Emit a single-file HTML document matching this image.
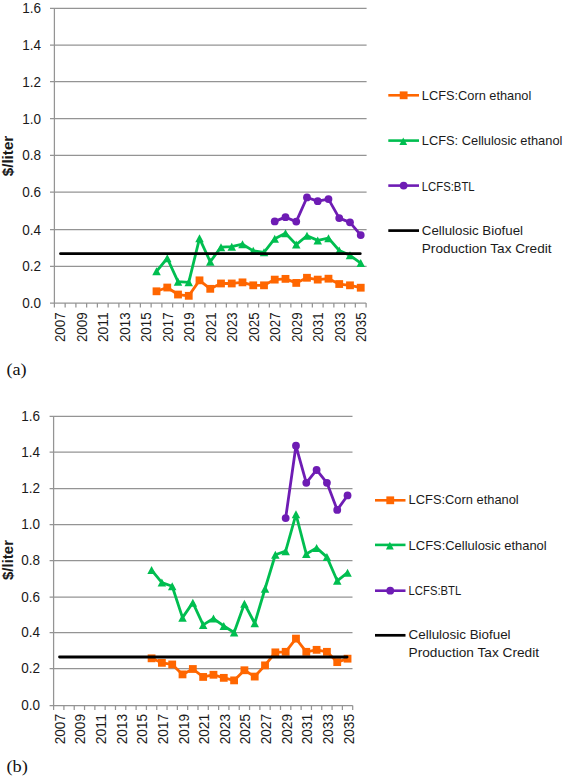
<!DOCTYPE html>
<html><head><meta charset="utf-8"><style>
html,body{margin:0;padding:0;background:#fff;width:564px;height:777px;overflow:hidden;}
svg{display:block;}
</style></head><body>
<svg width="564" height="777" viewBox="0 0 564 777" font-family='"Liberation Sans", sans-serif'>
<rect width="564" height="777" fill="#fff"/>
<line x1="50.00" y1="266.40" x2="366.60" y2="266.40" stroke="#949494" stroke-width="1.25"/>
<line x1="50.00" y1="229.60" x2="366.60" y2="229.60" stroke="#949494" stroke-width="1.25"/>
<line x1="50.00" y1="192.00" x2="366.60" y2="192.00" stroke="#949494" stroke-width="1.25"/>
<line x1="50.00" y1="155.40" x2="366.60" y2="155.40" stroke="#949494" stroke-width="1.25"/>
<line x1="50.00" y1="118.50" x2="366.60" y2="118.50" stroke="#949494" stroke-width="1.25"/>
<line x1="50.00" y1="81.60" x2="366.60" y2="81.60" stroke="#949494" stroke-width="1.25"/>
<line x1="50.00" y1="45.20" x2="366.60" y2="45.20" stroke="#949494" stroke-width="1.25"/>
<line x1="50.00" y1="8.30" x2="366.60" y2="8.30" stroke="#949494" stroke-width="1.25"/>
<line x1="50.00" y1="303.00" x2="366.10" y2="303.00" stroke="#949494" stroke-width="1.25"/>
<line x1="54.40" y1="8.30" x2="54.40" y2="303.50" stroke="#949494" stroke-width="1.25"/>
<line x1="54.40" y1="303.00" x2="54.40" y2="307.50" stroke="#949494" stroke-width="1.25"/>
<line x1="65.15" y1="303.00" x2="65.15" y2="307.50" stroke="#949494" stroke-width="1.25"/>
<line x1="75.90" y1="303.00" x2="75.90" y2="307.50" stroke="#949494" stroke-width="1.25"/>
<line x1="86.64" y1="303.00" x2="86.64" y2="307.50" stroke="#949494" stroke-width="1.25"/>
<line x1="97.39" y1="303.00" x2="97.39" y2="307.50" stroke="#949494" stroke-width="1.25"/>
<line x1="108.14" y1="303.00" x2="108.14" y2="307.50" stroke="#949494" stroke-width="1.25"/>
<line x1="118.89" y1="303.00" x2="118.89" y2="307.50" stroke="#949494" stroke-width="1.25"/>
<line x1="129.64" y1="303.00" x2="129.64" y2="307.50" stroke="#949494" stroke-width="1.25"/>
<line x1="140.39" y1="303.00" x2="140.39" y2="307.50" stroke="#949494" stroke-width="1.25"/>
<line x1="151.13" y1="303.00" x2="151.13" y2="307.50" stroke="#949494" stroke-width="1.25"/>
<line x1="161.88" y1="303.00" x2="161.88" y2="307.50" stroke="#949494" stroke-width="1.25"/>
<line x1="172.63" y1="303.00" x2="172.63" y2="307.50" stroke="#949494" stroke-width="1.25"/>
<line x1="183.38" y1="303.00" x2="183.38" y2="307.50" stroke="#949494" stroke-width="1.25"/>
<line x1="194.13" y1="303.00" x2="194.13" y2="307.50" stroke="#949494" stroke-width="1.25"/>
<line x1="204.88" y1="303.00" x2="204.88" y2="307.50" stroke="#949494" stroke-width="1.25"/>
<line x1="215.62" y1="303.00" x2="215.62" y2="307.50" stroke="#949494" stroke-width="1.25"/>
<line x1="226.37" y1="303.00" x2="226.37" y2="307.50" stroke="#949494" stroke-width="1.25"/>
<line x1="237.12" y1="303.00" x2="237.12" y2="307.50" stroke="#949494" stroke-width="1.25"/>
<line x1="247.87" y1="303.00" x2="247.87" y2="307.50" stroke="#949494" stroke-width="1.25"/>
<line x1="258.62" y1="303.00" x2="258.62" y2="307.50" stroke="#949494" stroke-width="1.25"/>
<line x1="269.37" y1="303.00" x2="269.37" y2="307.50" stroke="#949494" stroke-width="1.25"/>
<line x1="280.11" y1="303.00" x2="280.11" y2="307.50" stroke="#949494" stroke-width="1.25"/>
<line x1="290.86" y1="303.00" x2="290.86" y2="307.50" stroke="#949494" stroke-width="1.25"/>
<line x1="301.61" y1="303.00" x2="301.61" y2="307.50" stroke="#949494" stroke-width="1.25"/>
<line x1="312.36" y1="303.00" x2="312.36" y2="307.50" stroke="#949494" stroke-width="1.25"/>
<line x1="323.11" y1="303.00" x2="323.11" y2="307.50" stroke="#949494" stroke-width="1.25"/>
<line x1="333.86" y1="303.00" x2="333.86" y2="307.50" stroke="#949494" stroke-width="1.25"/>
<line x1="344.60" y1="303.00" x2="344.60" y2="307.50" stroke="#949494" stroke-width="1.25"/>
<line x1="355.35" y1="303.00" x2="355.35" y2="307.50" stroke="#949494" stroke-width="1.25"/>
<line x1="366.10" y1="303.00" x2="366.10" y2="307.50" stroke="#949494" stroke-width="1.25"/>
<text x="41.00" y="308.00" text-anchor="end" font-size="14" textLength="18.8" lengthAdjust="spacingAndGlyphs" fill="#1a1a1a">0.0</text>
<text x="41.00" y="271.40" text-anchor="end" font-size="14" textLength="18.8" lengthAdjust="spacingAndGlyphs" fill="#1a1a1a">0.2</text>
<text x="41.00" y="234.60" text-anchor="end" font-size="14" textLength="18.8" lengthAdjust="spacingAndGlyphs" fill="#1a1a1a">0.4</text>
<text x="41.00" y="197.00" text-anchor="end" font-size="14" textLength="18.8" lengthAdjust="spacingAndGlyphs" fill="#1a1a1a">0.6</text>
<text x="41.00" y="160.40" text-anchor="end" font-size="14" textLength="18.8" lengthAdjust="spacingAndGlyphs" fill="#1a1a1a">0.8</text>
<text x="41.00" y="123.50" text-anchor="end" font-size="14" textLength="18.8" lengthAdjust="spacingAndGlyphs" fill="#1a1a1a">1.0</text>
<text x="41.00" y="86.60" text-anchor="end" font-size="14" textLength="18.8" lengthAdjust="spacingAndGlyphs" fill="#1a1a1a">1.2</text>
<text x="41.00" y="50.20" text-anchor="end" font-size="14" textLength="18.8" lengthAdjust="spacingAndGlyphs" fill="#1a1a1a">1.4</text>
<text x="41.00" y="13.30" text-anchor="end" font-size="14" textLength="18.8" lengthAdjust="spacingAndGlyphs" fill="#1a1a1a">1.6</text>
<text transform="translate(65.37,312.40) rotate(-90)" x="0" y="0" text-anchor="end" font-size="14" textLength="29.7" lengthAdjust="spacingAndGlyphs" fill="#1a1a1a">2007</text>
<text transform="translate(86.87,312.40) rotate(-90)" x="0" y="0" text-anchor="end" font-size="14" textLength="29.7" lengthAdjust="spacingAndGlyphs" fill="#1a1a1a">2009</text>
<text transform="translate(108.37,312.40) rotate(-90)" x="0" y="0" text-anchor="end" font-size="14" textLength="29.7" lengthAdjust="spacingAndGlyphs" fill="#1a1a1a">2011</text>
<text transform="translate(129.86,312.40) rotate(-90)" x="0" y="0" text-anchor="end" font-size="14" textLength="29.7" lengthAdjust="spacingAndGlyphs" fill="#1a1a1a">2013</text>
<text transform="translate(151.36,312.40) rotate(-90)" x="0" y="0" text-anchor="end" font-size="14" textLength="29.7" lengthAdjust="spacingAndGlyphs" fill="#1a1a1a">2015</text>
<text transform="translate(172.86,312.40) rotate(-90)" x="0" y="0" text-anchor="end" font-size="14" textLength="29.7" lengthAdjust="spacingAndGlyphs" fill="#1a1a1a">2017</text>
<text transform="translate(194.35,312.40) rotate(-90)" x="0" y="0" text-anchor="end" font-size="14" textLength="29.7" lengthAdjust="spacingAndGlyphs" fill="#1a1a1a">2019</text>
<text transform="translate(215.85,312.40) rotate(-90)" x="0" y="0" text-anchor="end" font-size="14" textLength="29.7" lengthAdjust="spacingAndGlyphs" fill="#1a1a1a">2021</text>
<text transform="translate(237.35,312.40) rotate(-90)" x="0" y="0" text-anchor="end" font-size="14" textLength="29.7" lengthAdjust="spacingAndGlyphs" fill="#1a1a1a">2023</text>
<text transform="translate(258.84,312.40) rotate(-90)" x="0" y="0" text-anchor="end" font-size="14" textLength="29.7" lengthAdjust="spacingAndGlyphs" fill="#1a1a1a">2025</text>
<text transform="translate(280.34,312.40) rotate(-90)" x="0" y="0" text-anchor="end" font-size="14" textLength="29.7" lengthAdjust="spacingAndGlyphs" fill="#1a1a1a">2027</text>
<text transform="translate(301.84,312.40) rotate(-90)" x="0" y="0" text-anchor="end" font-size="14" textLength="29.7" lengthAdjust="spacingAndGlyphs" fill="#1a1a1a">2029</text>
<text transform="translate(323.33,312.40) rotate(-90)" x="0" y="0" text-anchor="end" font-size="14" textLength="29.7" lengthAdjust="spacingAndGlyphs" fill="#1a1a1a">2031</text>
<text transform="translate(344.83,312.40) rotate(-90)" x="0" y="0" text-anchor="end" font-size="14" textLength="29.7" lengthAdjust="spacingAndGlyphs" fill="#1a1a1a">2033</text>
<text transform="translate(366.33,312.40) rotate(-90)" x="0" y="0" text-anchor="end" font-size="14" textLength="29.7" lengthAdjust="spacingAndGlyphs" fill="#1a1a1a">2035</text>
<text transform="translate(13.30,156.00) rotate(-90)" x="0" y="0" text-anchor="middle" font-size="15" font-weight="bold" textLength="40.5" lengthAdjust="spacingAndGlyphs" fill="#1a1a1a">$/liter</text>
<polyline points="156.51,291.30 167.26,287.53 178.01,294.53 188.75,295.82 199.50,280.34 210.25,288.82 221.00,283.48 231.75,283.48 242.49,282.37 253.24,285.32 263.99,285.32 274.74,279.61 285.49,278.87 296.24,282.92 306.98,277.77 317.73,279.61 328.48,278.69 339.23,284.03 349.98,285.32 360.73,287.71" fill="none" stroke="#FF6600" stroke-width="2.8" stroke-linejoin="round"/>
<rect x="152.61" y="287.40" width="7.8" height="7.8" fill="#FF6600"/>
<rect x="163.36" y="283.63" width="7.8" height="7.8" fill="#FF6600"/>
<rect x="174.11" y="290.63" width="7.8" height="7.8" fill="#FF6600"/>
<rect x="184.85" y="291.92" width="7.8" height="7.8" fill="#FF6600"/>
<rect x="195.60" y="276.44" width="7.8" height="7.8" fill="#FF6600"/>
<rect x="206.35" y="284.92" width="7.8" height="7.8" fill="#FF6600"/>
<rect x="217.10" y="279.58" width="7.8" height="7.8" fill="#FF6600"/>
<rect x="227.85" y="279.58" width="7.8" height="7.8" fill="#FF6600"/>
<rect x="238.59" y="278.47" width="7.8" height="7.8" fill="#FF6600"/>
<rect x="249.34" y="281.42" width="7.8" height="7.8" fill="#FF6600"/>
<rect x="260.09" y="281.42" width="7.8" height="7.8" fill="#FF6600"/>
<rect x="270.84" y="275.71" width="7.8" height="7.8" fill="#FF6600"/>
<rect x="281.59" y="274.97" width="7.8" height="7.8" fill="#FF6600"/>
<rect x="292.34" y="279.02" width="7.8" height="7.8" fill="#FF6600"/>
<rect x="303.08" y="273.87" width="7.8" height="7.8" fill="#FF6600"/>
<rect x="313.83" y="275.71" width="7.8" height="7.8" fill="#FF6600"/>
<rect x="324.58" y="274.79" width="7.8" height="7.8" fill="#FF6600"/>
<rect x="335.33" y="280.13" width="7.8" height="7.8" fill="#FF6600"/>
<rect x="346.08" y="281.42" width="7.8" height="7.8" fill="#FF6600"/>
<rect x="356.83" y="283.81" width="7.8" height="7.8" fill="#FF6600"/>
<polyline points="156.51,271.32 167.26,258.24 178.01,281.63 188.75,282.37 199.50,238.35 210.25,261.74 221.00,247.19 231.75,246.64 242.49,244.24 253.24,250.87 263.99,252.35 274.74,238.72 285.49,233.19 296.24,244.61 306.98,235.77 317.73,240.38 328.48,238.17 339.23,250.51 349.98,255.30 360.73,263.03" fill="none" stroke="#00BE50" stroke-width="2.8" stroke-linejoin="round"/>
<polygon points="156.51,267.32 160.76,275.32 152.26,275.32" fill="#00BE50"/>
<polygon points="167.26,254.24 171.51,262.24 163.01,262.24" fill="#00BE50"/>
<polygon points="178.01,277.63 182.26,285.63 173.76,285.63" fill="#00BE50"/>
<polygon points="188.75,278.37 193.00,286.37 184.50,286.37" fill="#00BE50"/>
<polygon points="199.50,234.35 203.75,242.35 195.25,242.35" fill="#00BE50"/>
<polygon points="210.25,257.74 214.50,265.74 206.00,265.74" fill="#00BE50"/>
<polygon points="221.00,243.19 225.25,251.19 216.75,251.19" fill="#00BE50"/>
<polygon points="231.75,242.64 236.00,250.64 227.50,250.64" fill="#00BE50"/>
<polygon points="242.49,240.24 246.74,248.24 238.24,248.24" fill="#00BE50"/>
<polygon points="253.24,246.87 257.49,254.87 248.99,254.87" fill="#00BE50"/>
<polygon points="263.99,248.35 268.24,256.35 259.74,256.35" fill="#00BE50"/>
<polygon points="274.74,234.72 278.99,242.72 270.49,242.72" fill="#00BE50"/>
<polygon points="285.49,229.19 289.74,237.19 281.24,237.19" fill="#00BE50"/>
<polygon points="296.24,240.61 300.49,248.61 291.99,248.61" fill="#00BE50"/>
<polygon points="306.98,231.77 311.23,239.77 302.73,239.77" fill="#00BE50"/>
<polygon points="317.73,236.38 321.98,244.38 313.48,244.38" fill="#00BE50"/>
<polygon points="328.48,234.17 332.73,242.17 324.23,242.17" fill="#00BE50"/>
<polygon points="339.23,246.51 343.48,254.51 334.98,254.51" fill="#00BE50"/>
<polygon points="349.98,251.30 354.23,259.30 345.73,259.30" fill="#00BE50"/>
<polygon points="360.73,259.03 364.98,267.03 356.48,267.03" fill="#00BE50"/>
<polyline points="274.74,221.40 285.49,217.17 296.24,221.59 306.98,197.46 317.73,201.14 328.48,199.12 339.23,218.09 349.98,222.33 360.73,235.03" fill="none" stroke="#6E1CB4" stroke-width="2.8" stroke-linejoin="round"/>
<circle cx="274.74" cy="221.40" r="3.9" fill="#6E1CB4"/>
<circle cx="285.49" cy="217.17" r="3.9" fill="#6E1CB4"/>
<circle cx="296.24" cy="221.59" r="3.9" fill="#6E1CB4"/>
<circle cx="306.98" cy="197.46" r="3.9" fill="#6E1CB4"/>
<circle cx="317.73" cy="201.14" r="3.9" fill="#6E1CB4"/>
<circle cx="328.48" cy="199.12" r="3.9" fill="#6E1CB4"/>
<circle cx="339.23" cy="218.09" r="3.9" fill="#6E1CB4"/>
<circle cx="349.98" cy="222.33" r="3.9" fill="#6E1CB4"/>
<circle cx="360.73" cy="235.03" r="3.9" fill="#6E1CB4"/>
<line x1="60.57" y1="253.64" x2="360.23" y2="253.64" stroke="#000" stroke-width="2.9" stroke-linecap="round"/>
<line x1="388.3" y1="95.3" x2="419.0" y2="95.3" stroke="#FF6600" stroke-width="2.6"/>
<rect x="399.75" y="91.40" width="7.8" height="7.8" fill="#FF6600"/>
<line x1="388.3" y1="140.6" x2="419.0" y2="140.6" stroke="#00BE50" stroke-width="2.6"/>
<polygon points="403.25,137.50 407.15,145.10 399.35,145.10" fill="#00BE50"/>
<line x1="388.3" y1="185.6" x2="419.0" y2="185.6" stroke="#6E1CB4" stroke-width="2.6"/>
<circle cx="403.65" cy="185.6" r="3.9" fill="#6E1CB4"/>
<line x1="388.3" y1="230.6" x2="419.0" y2="230.6" stroke="#000" stroke-width="2.7"/>
<text x="421.8" y="99.9" font-size="13.5" textLength="109.5" lengthAdjust="spacingAndGlyphs" fill="#1a1a1a">LCFS:Corn ethanol</text>
<text x="421.8" y="145.0" font-size="13.5" textLength="140.6" lengthAdjust="spacingAndGlyphs" fill="#1a1a1a">LCFS: Cellulosic ethanol</text>
<text x="421.8" y="190.7" font-size="13.5" textLength="52.8" lengthAdjust="spacingAndGlyphs" fill="#1a1a1a">LCFS:BTL</text>
<text x="421.8" y="234.9" font-size="13.5" textLength="101.2" lengthAdjust="spacingAndGlyphs" fill="#1a1a1a">Cellulosic Biofuel</text>
<text x="421.8" y="253.1" font-size="13.5" textLength="129.7" lengthAdjust="spacingAndGlyphs" fill="#1a1a1a">Production Tax Credit</text>
<line x1="49.60" y1="668.50" x2="352.50" y2="668.50" stroke="#949494" stroke-width="1.25"/>
<line x1="49.60" y1="632.60" x2="352.50" y2="632.60" stroke="#949494" stroke-width="1.25"/>
<line x1="49.60" y1="597.20" x2="352.50" y2="597.20" stroke="#949494" stroke-width="1.25"/>
<line x1="49.60" y1="560.50" x2="352.50" y2="560.50" stroke="#949494" stroke-width="1.25"/>
<line x1="49.60" y1="524.60" x2="352.50" y2="524.60" stroke="#949494" stroke-width="1.25"/>
<line x1="49.60" y1="488.50" x2="352.50" y2="488.50" stroke="#949494" stroke-width="1.25"/>
<line x1="49.60" y1="452.10" x2="352.50" y2="452.10" stroke="#949494" stroke-width="1.25"/>
<line x1="49.60" y1="416.30" x2="352.50" y2="416.30" stroke="#949494" stroke-width="1.25"/>
<line x1="49.60" y1="705.50" x2="352.70" y2="705.50" stroke="#949494" stroke-width="1.25"/>
<line x1="53.60" y1="416.30" x2="53.60" y2="706.00" stroke="#949494" stroke-width="1.25"/>
<line x1="53.60" y1="705.50" x2="53.60" y2="710.00" stroke="#949494" stroke-width="1.25"/>
<line x1="63.91" y1="705.50" x2="63.91" y2="710.00" stroke="#949494" stroke-width="1.25"/>
<line x1="74.23" y1="705.50" x2="74.23" y2="710.00" stroke="#949494" stroke-width="1.25"/>
<line x1="84.54" y1="705.50" x2="84.54" y2="710.00" stroke="#949494" stroke-width="1.25"/>
<line x1="94.86" y1="705.50" x2="94.86" y2="710.00" stroke="#949494" stroke-width="1.25"/>
<line x1="105.17" y1="705.50" x2="105.17" y2="710.00" stroke="#949494" stroke-width="1.25"/>
<line x1="115.48" y1="705.50" x2="115.48" y2="710.00" stroke="#949494" stroke-width="1.25"/>
<line x1="125.80" y1="705.50" x2="125.80" y2="710.00" stroke="#949494" stroke-width="1.25"/>
<line x1="136.11" y1="705.50" x2="136.11" y2="710.00" stroke="#949494" stroke-width="1.25"/>
<line x1="146.42" y1="705.50" x2="146.42" y2="710.00" stroke="#949494" stroke-width="1.25"/>
<line x1="156.74" y1="705.50" x2="156.74" y2="710.00" stroke="#949494" stroke-width="1.25"/>
<line x1="167.05" y1="705.50" x2="167.05" y2="710.00" stroke="#949494" stroke-width="1.25"/>
<line x1="177.37" y1="705.50" x2="177.37" y2="710.00" stroke="#949494" stroke-width="1.25"/>
<line x1="187.68" y1="705.50" x2="187.68" y2="710.00" stroke="#949494" stroke-width="1.25"/>
<line x1="197.99" y1="705.50" x2="197.99" y2="710.00" stroke="#949494" stroke-width="1.25"/>
<line x1="208.31" y1="705.50" x2="208.31" y2="710.00" stroke="#949494" stroke-width="1.25"/>
<line x1="218.62" y1="705.50" x2="218.62" y2="710.00" stroke="#949494" stroke-width="1.25"/>
<line x1="228.93" y1="705.50" x2="228.93" y2="710.00" stroke="#949494" stroke-width="1.25"/>
<line x1="239.25" y1="705.50" x2="239.25" y2="710.00" stroke="#949494" stroke-width="1.25"/>
<line x1="249.56" y1="705.50" x2="249.56" y2="710.00" stroke="#949494" stroke-width="1.25"/>
<line x1="259.88" y1="705.50" x2="259.88" y2="710.00" stroke="#949494" stroke-width="1.25"/>
<line x1="270.19" y1="705.50" x2="270.19" y2="710.00" stroke="#949494" stroke-width="1.25"/>
<line x1="280.50" y1="705.50" x2="280.50" y2="710.00" stroke="#949494" stroke-width="1.25"/>
<line x1="290.82" y1="705.50" x2="290.82" y2="710.00" stroke="#949494" stroke-width="1.25"/>
<line x1="301.13" y1="705.50" x2="301.13" y2="710.00" stroke="#949494" stroke-width="1.25"/>
<line x1="311.44" y1="705.50" x2="311.44" y2="710.00" stroke="#949494" stroke-width="1.25"/>
<line x1="321.76" y1="705.50" x2="321.76" y2="710.00" stroke="#949494" stroke-width="1.25"/>
<line x1="332.07" y1="705.50" x2="332.07" y2="710.00" stroke="#949494" stroke-width="1.25"/>
<line x1="342.39" y1="705.50" x2="342.39" y2="710.00" stroke="#949494" stroke-width="1.25"/>
<line x1="352.70" y1="705.50" x2="352.70" y2="710.00" stroke="#949494" stroke-width="1.25"/>
<text x="40.10" y="710.10" text-anchor="end" font-size="14" textLength="18.8" lengthAdjust="spacingAndGlyphs" fill="#1a1a1a">0.0</text>
<text x="40.10" y="673.10" text-anchor="end" font-size="14" textLength="18.8" lengthAdjust="spacingAndGlyphs" fill="#1a1a1a">0.2</text>
<text x="40.10" y="637.20" text-anchor="end" font-size="14" textLength="18.8" lengthAdjust="spacingAndGlyphs" fill="#1a1a1a">0.4</text>
<text x="40.10" y="601.80" text-anchor="end" font-size="14" textLength="18.8" lengthAdjust="spacingAndGlyphs" fill="#1a1a1a">0.6</text>
<text x="40.10" y="565.10" text-anchor="end" font-size="14" textLength="18.8" lengthAdjust="spacingAndGlyphs" fill="#1a1a1a">0.8</text>
<text x="40.10" y="529.20" text-anchor="end" font-size="14" textLength="18.8" lengthAdjust="spacingAndGlyphs" fill="#1a1a1a">1.0</text>
<text x="40.10" y="493.10" text-anchor="end" font-size="14" textLength="18.8" lengthAdjust="spacingAndGlyphs" fill="#1a1a1a">1.2</text>
<text x="40.10" y="456.70" text-anchor="end" font-size="14" textLength="18.8" lengthAdjust="spacingAndGlyphs" fill="#1a1a1a">1.4</text>
<text x="40.10" y="420.90" text-anchor="end" font-size="14" textLength="18.8" lengthAdjust="spacingAndGlyphs" fill="#1a1a1a">1.6</text>
<text transform="translate(64.76,714.00) rotate(-90)" x="0" y="0" text-anchor="end" font-size="14" textLength="30.3" lengthAdjust="spacingAndGlyphs" fill="#1a1a1a">2007</text>
<text transform="translate(85.38,714.00) rotate(-90)" x="0" y="0" text-anchor="end" font-size="14" textLength="30.3" lengthAdjust="spacingAndGlyphs" fill="#1a1a1a">2009</text>
<text transform="translate(106.01,714.00) rotate(-90)" x="0" y="0" text-anchor="end" font-size="14" textLength="30.3" lengthAdjust="spacingAndGlyphs" fill="#1a1a1a">2011</text>
<text transform="translate(126.64,714.00) rotate(-90)" x="0" y="0" text-anchor="end" font-size="14" textLength="30.3" lengthAdjust="spacingAndGlyphs" fill="#1a1a1a">2013</text>
<text transform="translate(147.27,714.00) rotate(-90)" x="0" y="0" text-anchor="end" font-size="14" textLength="30.3" lengthAdjust="spacingAndGlyphs" fill="#1a1a1a">2015</text>
<text transform="translate(167.89,714.00) rotate(-90)" x="0" y="0" text-anchor="end" font-size="14" textLength="30.3" lengthAdjust="spacingAndGlyphs" fill="#1a1a1a">2017</text>
<text transform="translate(188.52,714.00) rotate(-90)" x="0" y="0" text-anchor="end" font-size="14" textLength="30.3" lengthAdjust="spacingAndGlyphs" fill="#1a1a1a">2019</text>
<text transform="translate(209.15,714.00) rotate(-90)" x="0" y="0" text-anchor="end" font-size="14" textLength="30.3" lengthAdjust="spacingAndGlyphs" fill="#1a1a1a">2021</text>
<text transform="translate(229.78,714.00) rotate(-90)" x="0" y="0" text-anchor="end" font-size="14" textLength="30.3" lengthAdjust="spacingAndGlyphs" fill="#1a1a1a">2023</text>
<text transform="translate(250.41,714.00) rotate(-90)" x="0" y="0" text-anchor="end" font-size="14" textLength="30.3" lengthAdjust="spacingAndGlyphs" fill="#1a1a1a">2025</text>
<text transform="translate(271.03,714.00) rotate(-90)" x="0" y="0" text-anchor="end" font-size="14" textLength="30.3" lengthAdjust="spacingAndGlyphs" fill="#1a1a1a">2027</text>
<text transform="translate(291.66,714.00) rotate(-90)" x="0" y="0" text-anchor="end" font-size="14" textLength="30.3" lengthAdjust="spacingAndGlyphs" fill="#1a1a1a">2029</text>
<text transform="translate(312.29,714.00) rotate(-90)" x="0" y="0" text-anchor="end" font-size="14" textLength="30.3" lengthAdjust="spacingAndGlyphs" fill="#1a1a1a">2031</text>
<text transform="translate(332.92,714.00) rotate(-90)" x="0" y="0" text-anchor="end" font-size="14" textLength="30.3" lengthAdjust="spacingAndGlyphs" fill="#1a1a1a">2033</text>
<text transform="translate(353.54,714.00) rotate(-90)" x="0" y="0" text-anchor="end" font-size="14" textLength="30.3" lengthAdjust="spacingAndGlyphs" fill="#1a1a1a">2035</text>
<text transform="translate(13.30,560.00) rotate(-90)" x="0" y="0" text-anchor="middle" font-size="15" font-weight="bold" textLength="40.1" lengthAdjust="spacingAndGlyphs" fill="#1a1a1a">$/liter</text>
<polyline points="151.58,658.32 161.89,662.84 172.21,664.47 182.52,674.41 192.84,668.99 203.15,676.94 213.46,674.77 223.78,677.85 234.09,680.38 244.41,670.25 254.72,676.58 265.03,665.37 275.35,652.36 285.66,651.82 295.97,638.62 306.29,651.82 316.60,649.83 326.92,651.82 337.23,662.12 347.54,658.69" fill="none" stroke="#FF6600" stroke-width="2.8" stroke-linejoin="round"/>
<rect x="147.68" y="654.42" width="7.8" height="7.8" fill="#FF6600"/>
<rect x="157.99" y="658.94" width="7.8" height="7.8" fill="#FF6600"/>
<rect x="168.31" y="660.57" width="7.8" height="7.8" fill="#FF6600"/>
<rect x="178.62" y="670.51" width="7.8" height="7.8" fill="#FF6600"/>
<rect x="188.94" y="665.09" width="7.8" height="7.8" fill="#FF6600"/>
<rect x="199.25" y="673.04" width="7.8" height="7.8" fill="#FF6600"/>
<rect x="209.56" y="670.87" width="7.8" height="7.8" fill="#FF6600"/>
<rect x="219.88" y="673.95" width="7.8" height="7.8" fill="#FF6600"/>
<rect x="230.19" y="676.48" width="7.8" height="7.8" fill="#FF6600"/>
<rect x="240.51" y="666.35" width="7.8" height="7.8" fill="#FF6600"/>
<rect x="250.82" y="672.68" width="7.8" height="7.8" fill="#FF6600"/>
<rect x="261.13" y="661.47" width="7.8" height="7.8" fill="#FF6600"/>
<rect x="271.45" y="648.46" width="7.8" height="7.8" fill="#FF6600"/>
<rect x="281.76" y="647.92" width="7.8" height="7.8" fill="#FF6600"/>
<rect x="292.07" y="634.72" width="7.8" height="7.8" fill="#FF6600"/>
<rect x="302.39" y="647.92" width="7.8" height="7.8" fill="#FF6600"/>
<rect x="312.70" y="645.93" width="7.8" height="7.8" fill="#FF6600"/>
<rect x="323.02" y="647.92" width="7.8" height="7.8" fill="#FF6600"/>
<rect x="333.33" y="658.22" width="7.8" height="7.8" fill="#FF6600"/>
<rect x="343.64" y="654.79" width="7.8" height="7.8" fill="#FF6600"/>
<polyline points="151.58,570.12 161.89,582.59 172.21,586.21 182.52,617.66 192.84,602.65 203.15,624.89 213.46,618.56 223.78,625.97 234.09,632.48 244.41,603.74 254.72,623.26 265.03,588.74 275.35,554.75 285.66,551.14 295.97,514.27 306.29,554.03 316.60,547.89 326.92,557.10 337.23,580.78 347.54,572.65" fill="none" stroke="#00BE50" stroke-width="2.8" stroke-linejoin="round"/>
<polygon points="151.58,566.12 155.83,574.12 147.33,574.12" fill="#00BE50"/>
<polygon points="161.89,578.59 166.14,586.59 157.64,586.59" fill="#00BE50"/>
<polygon points="172.21,582.21 176.46,590.21 167.96,590.21" fill="#00BE50"/>
<polygon points="182.52,613.66 186.77,621.66 178.27,621.66" fill="#00BE50"/>
<polygon points="192.84,598.65 197.09,606.65 188.59,606.65" fill="#00BE50"/>
<polygon points="203.15,620.89 207.40,628.89 198.90,628.89" fill="#00BE50"/>
<polygon points="213.46,614.56 217.71,622.56 209.21,622.56" fill="#00BE50"/>
<polygon points="223.78,621.97 228.03,629.97 219.53,629.97" fill="#00BE50"/>
<polygon points="234.09,628.48 238.34,636.48 229.84,636.48" fill="#00BE50"/>
<polygon points="244.41,599.74 248.66,607.74 240.16,607.74" fill="#00BE50"/>
<polygon points="254.72,619.26 258.97,627.26 250.47,627.26" fill="#00BE50"/>
<polygon points="265.03,584.74 269.28,592.74 260.78,592.74" fill="#00BE50"/>
<polygon points="275.35,550.75 279.60,558.75 271.10,558.75" fill="#00BE50"/>
<polygon points="285.66,547.14 289.91,555.14 281.41,555.14" fill="#00BE50"/>
<polygon points="295.97,510.27 300.22,518.27 291.72,518.27" fill="#00BE50"/>
<polygon points="306.29,550.03 310.54,558.03 302.04,558.03" fill="#00BE50"/>
<polygon points="316.60,543.89 320.85,551.89 312.35,551.89" fill="#00BE50"/>
<polygon points="326.92,553.10 331.17,561.10 322.67,561.10" fill="#00BE50"/>
<polygon points="337.23,576.78 341.48,584.78 332.98,584.78" fill="#00BE50"/>
<polygon points="347.54,568.65 351.79,576.65 343.29,576.65" fill="#00BE50"/>
<polyline points="285.66,518.06 295.97,445.76 306.29,482.82 316.60,469.98 326.92,482.82 337.23,509.93 347.54,495.47" fill="none" stroke="#6E1CB4" stroke-width="2.8" stroke-linejoin="round"/>
<circle cx="285.66" cy="518.06" r="3.9" fill="#6E1CB4"/>
<circle cx="295.97" cy="445.76" r="3.9" fill="#6E1CB4"/>
<circle cx="306.29" cy="482.82" r="3.9" fill="#6E1CB4"/>
<circle cx="316.60" cy="469.98" r="3.9" fill="#6E1CB4"/>
<circle cx="326.92" cy="482.82" r="3.9" fill="#6E1CB4"/>
<circle cx="337.23" cy="509.93" r="3.9" fill="#6E1CB4"/>
<circle cx="347.54" cy="495.47" r="3.9" fill="#6E1CB4"/>
<line x1="59.56" y1="657.06" x2="347.04" y2="657.06" stroke="#000" stroke-width="2.9" stroke-linecap="round"/>
<line x1="375.0" y1="500.3" x2="405.5" y2="500.3" stroke="#FF6600" stroke-width="2.6"/>
<rect x="386.35" y="496.40" width="7.8" height="7.8" fill="#FF6600"/>
<line x1="375.0" y1="544.9" x2="405.5" y2="544.9" stroke="#00BE50" stroke-width="2.6"/>
<polygon points="389.85,541.80 393.75,549.40 385.95,549.40" fill="#00BE50"/>
<line x1="375.0" y1="590.7" x2="405.5" y2="590.7" stroke="#6E1CB4" stroke-width="2.6"/>
<circle cx="390.25" cy="590.7" r="3.9" fill="#6E1CB4"/>
<line x1="375.0" y1="635.3" x2="405.5" y2="635.3" stroke="#000" stroke-width="2.7"/>
<text x="408.6" y="504.1" font-size="13.5" textLength="110.1" lengthAdjust="spacingAndGlyphs" fill="#1a1a1a">LCFS:Corn ethanol</text>
<text x="408.6" y="549.6" font-size="13.5" textLength="138.1" lengthAdjust="spacingAndGlyphs" fill="#1a1a1a">LCFS:Cellulosic ethanol</text>
<text x="408.6" y="594.5" font-size="13.5" textLength="52.6" lengthAdjust="spacingAndGlyphs" fill="#1a1a1a">LCFS:BTL</text>
<text x="408.6" y="639.1" font-size="13.5" textLength="102.0" lengthAdjust="spacingAndGlyphs" fill="#1a1a1a">Cellulosic Biofuel</text>
<text x="408.6" y="657.2" font-size="13.5" textLength="130.4" lengthAdjust="spacingAndGlyphs" fill="#1a1a1a">Production Tax Credit</text>
<text x="6.4" y="374.6" font-family='"Liberation Serif", serif' font-size="17" textLength="20.2" lengthAdjust="spacingAndGlyphs" fill="#111">(a)</text>
<text x="6.4" y="771.9" font-family='"Liberation Serif", serif' font-size="17" textLength="21.4" lengthAdjust="spacingAndGlyphs" fill="#111">(b)</text>
</svg>
</body></html>
